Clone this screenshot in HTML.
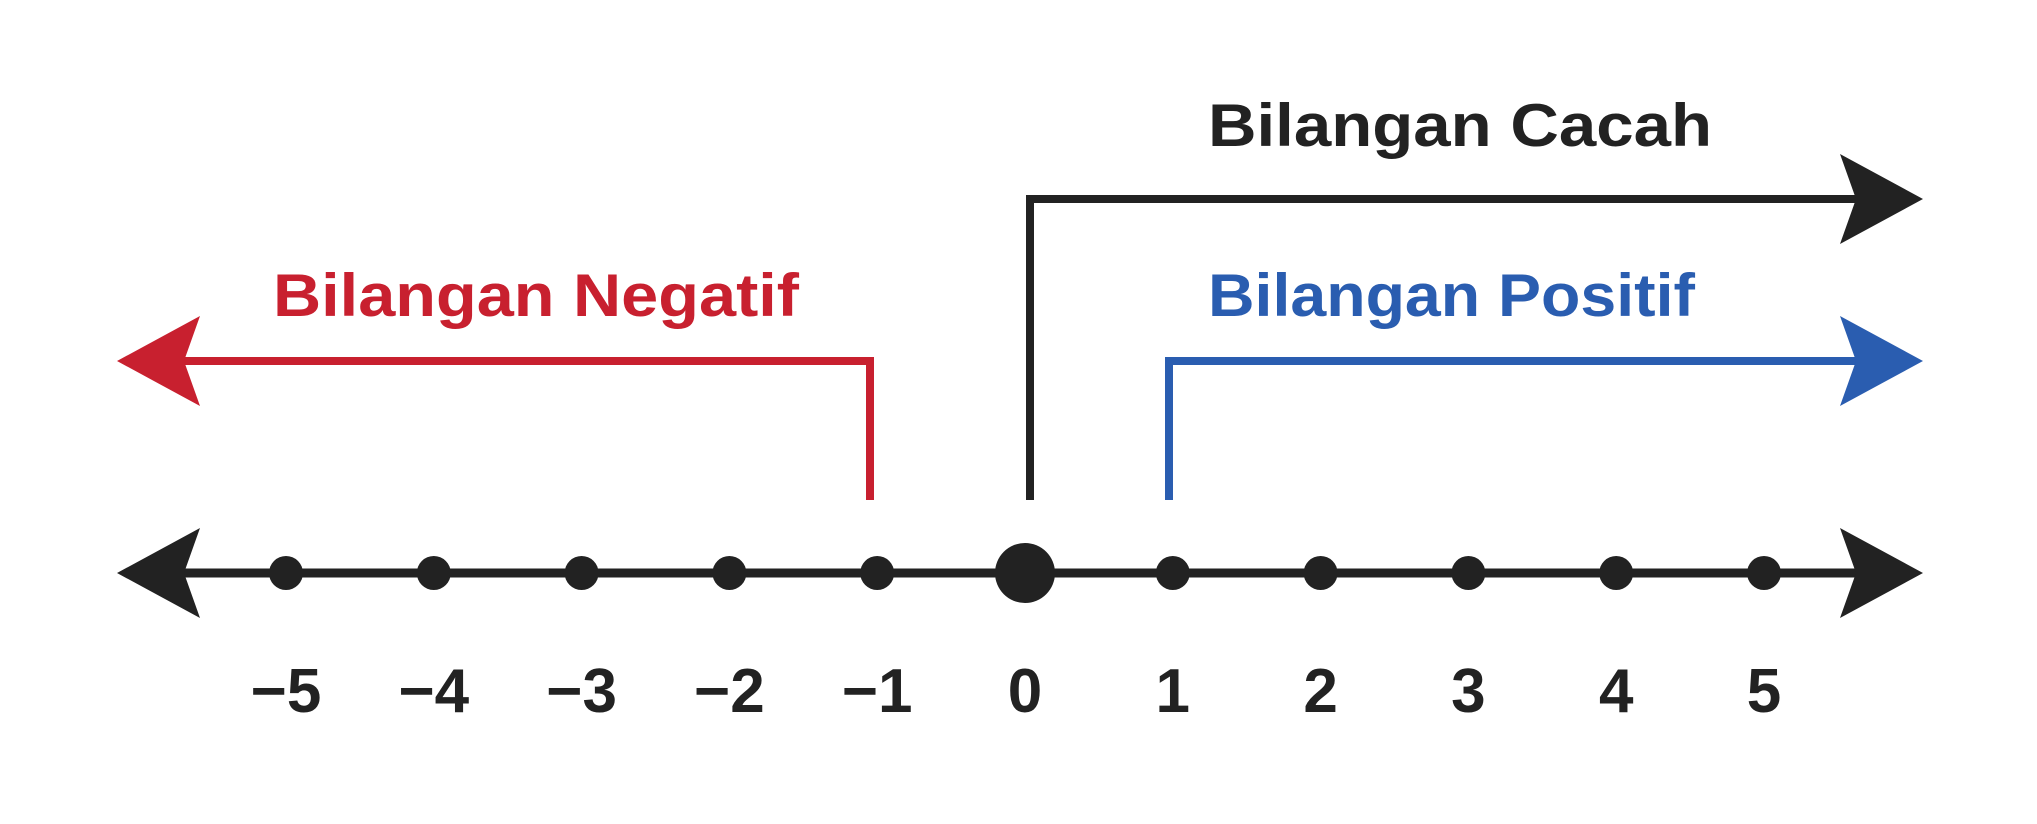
<!DOCTYPE html>
<html><head><meta charset="utf-8"><style>
html,body{margin:0;padding:0;background:#fff;}
svg{display:block;}
text{font-family:"Liberation Sans",sans-serif;font-weight:bold;}
</style></head><body>
<svg id="chart" width="2037" height="824" viewBox="0 0 2037 824" xmlns="http://www.w3.org/2000/svg">
<g id="static">
  <line x1="170" y1="573" x2="1870" y2="573" stroke="#222" stroke-width="9"/>
  <polygon points="117,573 200,528 184,573 200,618" fill="#222"/>
  <polygon points="1923,573 1840,528 1856,573 1840,618" fill="#222"/>

  <polyline points="1030,500 1030,199 1860,199" fill="none" stroke="#222" stroke-width="8"/>
  <polygon points="1923,199 1840,154 1856,199 1840,244" fill="#222"/>
  <text x="1208" y="146" font-size="60" fill="#222" textLength="504" lengthAdjust="spacingAndGlyphs">Bilangan Cacah</text>

  <polyline points="1169,500 1169,361 1860,361" fill="none" stroke="#2a5db0" stroke-width="8"/>
  <polygon points="1923,361 1840,316 1856,361 1840,406" fill="#2a5db0"/>
  <text x="1208" y="316" font-size="60" fill="#2a5db0" textLength="487" lengthAdjust="spacingAndGlyphs">Bilangan Positif</text>

  <polyline points="870,500 870,361 180,361" fill="none" stroke="#c8202f" stroke-width="8"/>
  <polygon points="117,361 200,316 184,361 200,406" fill="#c8202f"/>
  <text x="273" y="316" font-size="60" fill="#c8202f" textLength="526" lengthAdjust="spacingAndGlyphs">Bilangan Negatif</text>
</g>
<g id="marks"></g>
</svg>
<script>
const tickValues = [-5,-4,-3,-2,-1,0,1,2,3,4,5];
const tickLabels = ["−5","−4","−3","−2","−1","0","1","2","3","4","5"];
const originValue = 0;

const xScale = v => 1025 + v * 147.8;
const ns = "http://www.w3.org/2000/svg";
const g = document.getElementById('marks');
tickValues.forEach((v, i) => {
  const c = document.createElementNS(ns, 'circle');
  c.setAttribute('cx', xScale(v));
  c.setAttribute('cy', 573);
  c.setAttribute('r', v === originValue ? 30 : 17);
  c.setAttribute('fill', '#222');
  
  
  g.appendChild(c);
  const t = document.createElementNS(ns, 'text');
  t.setAttribute('x', xScale(v));
  t.setAttribute('y', 712);
  t.setAttribute('font-size', '62');
  t.setAttribute('fill', '#222');
  t.setAttribute('text-anchor', 'middle');
  t.textContent = tickLabels[i];
  
  
  g.appendChild(t);
});
</script>
</body></html>
